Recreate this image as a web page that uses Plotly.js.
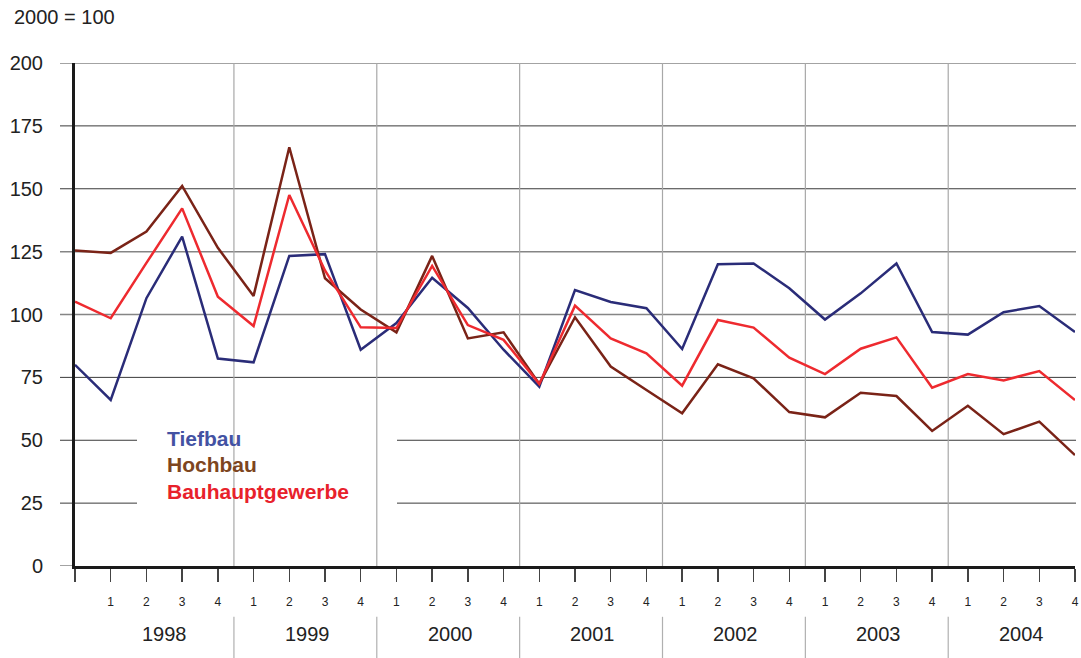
<!DOCTYPE html>
<html>
<head>
<meta charset="utf-8">
<script src="https://cdn.plot.ly/plotly-3.0.1.min.js"></script>
<style>html,body{margin:0;padding:0;background:#fff;}#chart{width:1081px;height:658px;}</style>
</head>
<body>
<div id="chart"></div>
<script>
// Quarters: first point is Q4 1997, then 1998 Q1 ... 2004 Q4
var quarterLabels = ["", "1","2","3","4", "1","2","3","4", "1","2","3","4", "1","2","3","4",
                     "1","2","3","4", "1","2","3","4", "1","2","3","4"];
var years = ["1998","1999","2000","2001","2002","2003","2004"];
var yTicks = [0, 25, 50, 75, 100, 125, 150, 175, 200];

var tiefbau = [80, 66, 106.5, 131, 82.5, 81, 123.3, 124, 86, 96.6, 114.6, 102.6, 86, 71.3,
               109.7, 105, 102.5, 86.3, 120, 120.3, 110.4, 98, 108.4, 120.3, 93, 92, 100.9, 103.4, 93];
var hochbau = [125.4, 124.5, 133, 151.1, 126.5, 107.4, 166.5, 114.4, 102, 92.9, 123.3, 90.5, 92.9, 72.4,
               98.9, 79.3, 70, 60.7, 80.2, 74.6, 61.2, 59.1, 68.9, 67.6, 53.7, 63.7, 52.4, 57.4, 44.1];
var bauhaupt = [105.1, 98.5, 120.5, 142.2, 107.1, 95.4, 147.5, 117.5, 94.9, 94.6, 119.3, 95.8, 89.9, 72.4,
                103.5, 90.5, 84.6, 71.7, 97.8, 94.8, 82.8, 76.3, 86.4, 90.9, 70.9, 76.3, 73.8, 77.5, 66];

var xIdx = quarterLabels.map(function(_, i){ return i; });

var font = "Liberation Sans, Arial, Helvetica, sans-serif";

var traces = [
  {x: xIdx, y: tiefbau, mode: "lines", name: "Tiefbau", line: {color: "#2a2c78", width: 2.5}},
  {x: xIdx, y: hochbau, mode: "lines", name: "Hochbau", line: {color: "#7a2317", width: 2.5}},
  {x: xIdx, y: bauhaupt, mode: "lines", name: "Bauhauptgewerbe", line: {color: "#ee2a2f", width: 2.5}}
];

var shapes = [];
// horizontal gridlines
var grayLevels = {200: true, 125: true, 100: true};
yTicks.forEach(function(v){
  if (v === 0) return;
  shapes.push({type: "line", layer: "below", xref: "paper", yref: "y", x0: -0.015, x1: 1.001, y0: v, y1: v,
    line: {color: grayLevels[v] ? "#858585" : "#3a3a3a", width: grayLevels[v] ? 1.5 : 1}});
});
shapes.push({type: "line", layer: "below", xref: "paper", yref: "y", x0: -0.015, x1: 0, y0: 0, y1: 0,
  line: {color: "#858585", width: 1.5}});
// year separators
years.forEach(function(y, k){
  if (k === 0) return;
  var xs = 4 * k + 0.45;
  shapes.push({type: "line", layer: "below", xref: "x", yref: "y", x0: xs, x1: xs, y0: -1.5, y1: 200,
    line: {color: "#a8a8a8", width: 1.2}});
  shapes.push({type: "line", layer: "below", xref: "x", yref: "paper", x0: xs, x1: xs, y0: -0.101, y1: -0.185,
    line: {color: "#b0b0b0", width: 1.2}});
});
// legend box background
shapes.push({type: "rect", layer: "below", xref: "paper", yref: "paper", x0: 0.062, x1: 0.322, y0: 0.0934, y1: 0.3002,
  fillcolor: "#ffffff", line: {width: 0}});

var annotations = [];
years.forEach(function(y, k){
  annotations.push({text: y, xref: "x", yref: "paper", x: 4 * k + 2.5, y: -0.135, showarrow: false,
    xanchor: "center", yanchor: "middle", font: {family: font, size: 20, color: "#222"}});
});
var legendItems = [
  {text: "Tiefbau", color: "#4352a3", y: 0.2525},
  {text: "Hochbau", color: "#7d4520", y: 0.2008},
  {text: "Bauhauptgewerbe", color: "#e8212b", y: 0.1491}
];
legendItems.forEach(function(it){
  annotations.push({text: "<b>" + it.text + "</b>", xref: "paper", yref: "paper", x: 0.09, y: it.y, showarrow: false,
    xanchor: "left", yanchor: "middle", font: {family: font, size: 21, color: it.color}});
});
annotations.push({text: "2000 = 100", xref: "paper", yref: "paper", x: -0.063, y: 1.0915, showarrow: false,
  xanchor: "left", yanchor: "middle", font: {family: font, size: 20, color: "#222"}});

var layout = {
  width: 1081, height: 658,
  margin: {l: 75, r: 6, t: 63, b: 92},
  paper_bgcolor: "#fff", plot_bgcolor: "#fff",
  showlegend: false,
  font: {family: font, color: "#222"},
  xaxis: {
    range: [0, 28], showgrid: false, zeroline: false,
    tickmode: "array", tickvals: xIdx, ticktext: quarterLabels,
    ticks: "outside", ticklen: 13, tickwidth: 1.5, tickcolor: "#444",
    ticklabelstandoff: 10,
    tickfont: {family: font, size: 12, color: "#222"},
    showline: true, linecolor: "#1a1a1a", linewidth: 3
  },
  yaxis: {
    range: [0, 200], showgrid: false, zeroline: false,
    tickmode: "array", tickvals: yTicks,
    ticks: "", ticklabelstandoff: 25,
    tickfont: {family: font, size: 20, color: "#222"},
    showline: true, linecolor: "#1a1a1a", linewidth: 3
  },
  shapes: shapes,
  annotations: annotations
};

Plotly.newPlot("chart", traces, layout, {displayModeBar: false, staticPlot: true});
</script>
</body>
</html>
